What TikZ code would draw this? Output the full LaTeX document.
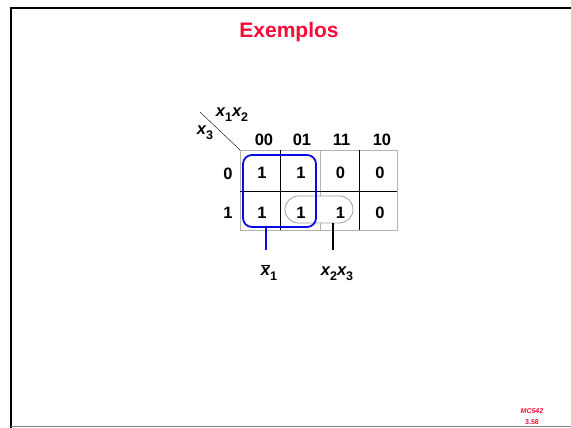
\documentclass[tikz,border=0pt]{standalone}
\usepackage{fontspec}
\setmainfont{Liberation Sans}
\definecolor{titlered}{RGB}{250,10,55}
\definecolor{grpblue}{RGB}{10,10,230}
\newcommand\subs[1]{\raisebox{-0.32em}{\fontsize{12.5}{13}\selectfont\upshape #1}}
\begin{document}
\begin{tikzpicture}[x=1pt,y=-1pt,
  val/.style={font=\fontsize{16.5}{18}\selectfont\bfseries, inner sep=0pt},
  hdr/.style={font=\fontsize{16.5}{18}\selectfont\bfseries, inner sep=0pt},
  varl/.style={font=\fontsize{16.5}{18}\selectfont\bfseries\itshape, inner sep=0pt},
  gridgray/.style={draw=gray!60, line width=0.8},
  gridblack/.style={draw=black, line width=0.9},
  bluegrp/.style={draw=grpblue, line width=1.8, rounded corners=9, inner sep=0pt},
  pill/.style={draw=gray!75, fill=white, line width=0.8, rounded corners=13.5, inner sep=0pt},
  titlest/.style={font=\fontsize{21}{24}\selectfont\bfseries, text=titlered, inner sep=0pt},
  footst/.style={font=\fontsize{7}{8}\selectfont\bfseries, text=titlered, inner sep=0pt}]
\useasboundingbox (0,0) rectangle (571,428);
% frame
\draw[line width=2.4] (11,427.5) -- (11,8.3) -- (571,8.3);
\draw[gray, line width=1] (11,426.8) -- (571,426.8);
% title
\node[titlest, anchor=base] (title) at (289,38) {Exemplos};
% grid
\draw[gridgray] (240,150) rectangle (397,230);
\draw[gridgray] (320,150) -- (320,230);
\draw[gridblack] (280.5,150) -- (280.5,230);
\draw[gridblack] (359,150) -- (359,230);
\draw[gridblack] (240,191) -- (397,191);
% diagonal and variable labels
\draw[line width=0.4] (200,112) -- (240,150);
\node[varl] (v12) at (232,115) {x\subs{1}x\subs{2}};
\node[varl] (v3) at (205,133) {x\subs{3}};
% column headers
\node[hdr] (h00) at (264,140) {00};
\node[hdr] (h01) at (302,140) {01};
\node[hdr] (h11) at (341.5,140) {11};
\node[hdr] (h10) at (382,140) {10};
% row headers
\node[hdr] (r0) at (228,174) {0};
\node[hdr] (r1) at (228,213) {1};
% pill group (white fill hides grid line)
\node[pill, minimum width=68, minimum height=27] (g2) at (319,209.5) {};
% cell values
\node[val] (c00) at (262,172.5) {1};
\node[val] (c01) at (301,172.5) {1};
\node[val] (c11) at (340.5,172.5) {0};
\node[val] (c10) at (380,172.5) {0};
\node[val] (d00) at (262,212.5) {1};
\node[val] (d01) at (301,212.5) {1};
\node[val] (d11) at (340.5,212.5) {1};
\node[val] (d10) at (380,212.5) {0};
% blue group
\node[bluegrp, minimum width=73, minimum height=72] (g1) at (279.5,191) {};
% labels
\node[varl] (l1) at (269,273) {$\overline{\mbox{x}}$\subs{1}};
\node[varl] (l2) at (337,274) {x\subs{2}x\subs{3}};
\coordinate (e1) at (266,250);
\coordinate (e2) at (333,250);
\draw[grpblue, line width=1.8] (g1.south -| e1) -- (e1);
\draw[black, line width=1.2] (g2.south -| e2) -- (e2);
% footer
\node[footst] (f1) at (532,410.7) {\textit{MC542}};
\node[footst] (f2) at (532,422) {3.58};
\end{tikzpicture}
\end{document}
